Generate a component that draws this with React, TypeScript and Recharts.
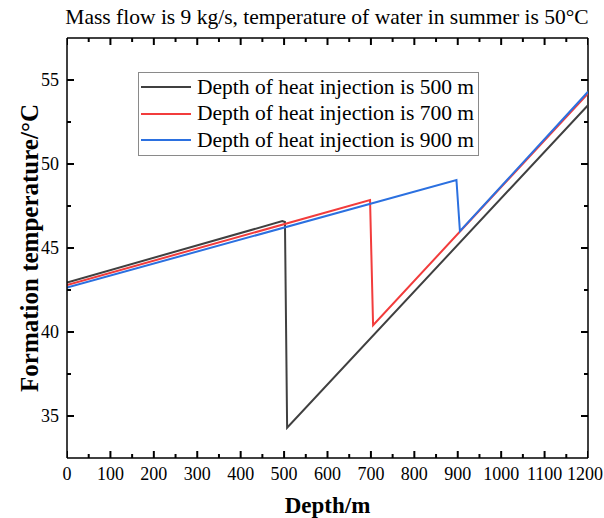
import React from 'react';
import { ComposedChart, Line, Scatter, XAxis, YAxis, Legend, ReferenceLine } from 'recharts';

// depth (m) and formation temperature (°C)
const depth500 = [0, 496, 502, 507, 1200];
const temp500 = [42.95, 46.6, 46.55, 34.3, 53.5];

const depth700 = [0, 698, 705, 1200];
const temp700 = [42.8, 47.85, 40.4, 54.2];

const depth900 = [0, 897, 905, 1200];
const temp900 = [42.65, 49.05, 46.0, 54.3];

const xMajor = [0, 100, 200, 300, 400, 500, 600, 700, 800, 900, 1000, 1100, 1200];
const xMinor = [50, 150, 250, 350, 450, 550, 650, 750, 850, 950, 1050, 1150];
const yMajor = [35, 40, 45, 50, 55];
const yMinor = [37.5, 42.5, 47.5, 52.5];

const X_DOMAIN: [number, number] = [0, 1200];
const Y_DOMAIN: [number, number] = [32.5, 57.5];

const toPoints = (xs: number[], ys: number[]) => xs.map((d, i) => ({ depth: d, temp: ys[i] }));

const series = [
  { name: 'Depth of heat injection is 500 m', color: '#404040', data: toPoints(depth500, temp500) },
  { name: 'Depth of heat injection is 700 m', color: '#f23c3c', data: toPoints(depth700, temp700) },
  { name: 'Depth of heat injection is 900 m', color: '#2b70e0', data: toPoints(depth900, temp900) },
];

// inward tick marks on all four sides of the frame
const xMarks = (temp: number) => [
  ...xMajor.map((v) => ({ depth: v, temp, major: true })),
  ...xMinor.map((v) => ({ depth: v, temp, major: false })),
];
const yMarks = (depth: number) => [
  ...yMajor.map((v) => ({ depth, temp: v, major: true })),
  ...yMinor.map((v) => ({ depth, temp: v, major: false })),
];

const FONT = '"Liberation Serif", "Times New Roman", serif';
const MAJOR = 7;
const MINOR = 4;
const frame = { stroke: '#000', strokeWidth: 1.5 };

const tickMark = (dx: number, dy: number) => (props: any) => {
  const { cx, cy } = props;
  const major = props.payload && props.payload.major !== undefined ? props.payload.major : props.major;
  const len = major ? MAJOR : MINOR;
  return <line x1={cx} y1={cy} x2={cx + dx * len} y2={cy + dy * len} stroke="#000" strokeWidth={2} />;
};

const bottomLabel = (props: any) => {
  const x = Number(props.x);
  const y = Number(props.y);
  const v = props.payload.value;
  const last = v === 1200;
  return (
    <text key={`bl-${v}`} x={last ? x + 15 : x} y={y + 22} textAnchor={last ? 'end' : 'middle'} fontFamily={FONT} fontSize={18} fill="#000">
      {v}
    </text>
  );
};

function LegendBox() {
  return (
    <div style={{ border: '1px solid #8a8a8a', background: '#fff', padding: '1px 0', fontFamily: FONT, fontSize: 21.5 }}>
      {series.map((s) => (
        <div key={s.name} style={{ display: 'flex', alignItems: 'center', height: 26.5, whiteSpace: 'nowrap' }}>
          <span style={{ display: 'inline-block', width: 50, height: 2, background: s.color, marginLeft: 2, marginRight: 6 }} />
          <span style={{ color: '#000' }}>{s.name}</span>
        </div>
      ))}
    </div>
  );
}

export default function App() {
  return (
    <div style={{ position: 'absolute', left: 0, top: 0, width: 604, height: 518, background: '#fff' }}>
      <div style={{ position: 'absolute', left: 50, top: 4, width: 554, textAlign: 'center', fontFamily: FONT, fontSize: 21.5, lineHeight: '26px', color: '#000', whiteSpace: 'nowrap' }}>
        Mass flow is 9 kg/s, temperature of water in summer is 50°C
      </div>
      <ComposedChart width={604} height={518} margin={{ top: 38, right: 16, bottom: 0, left: 0 }}>
        <XAxis
          xAxisId="b"
          dataKey="depth"
          type="number"
          domain={X_DOMAIN}
          ticks={xMajor}
          interval={0}
          height={60}
          tickSize={0}
          tickMargin={0}
          tickLine={false}
          tick={bottomLabel}
          axisLine={frame}
          allowDataOverflow
          label={{ value: 'Depth/m', position: 'insideBottom', offset: 5, style: { fontFamily: FONT, fontSize: 23, fontWeight: 'bold', fill: '#000' } }}
        />
        <YAxis
          yAxisId="l"
          dataKey="temp"
          type="number"
          domain={Y_DOMAIN}
          ticks={yMajor}
          interval={0}
          width={67}
          tickSize={0}
          tickMargin={8}
          tickLine={false}
          tick={{ fontFamily: FONT, fontSize: 18, fill: '#000' }}
          axisLine={frame}
          allowDataOverflow
          label={{ value: 'Formation temperature/°C', angle: -90, position: 'insideLeft', offset: 29, style: { textAnchor: 'middle', fontFamily: FONT, fontSize: 25, fontWeight: 'bold', fill: '#000' } }}
        />

        <Legend
          layout="horizontal"
          verticalAlign="middle"
          align="center"
          content={<LegendBox />}
          wrapperStyle={{ left: 138, top: 72, width: 341, height: 'auto' }}
        />

        {/* top and right sides of the frame */}
        <ReferenceLine xAxisId="b" yAxisId="l" y={Y_DOMAIN[1]} stroke="#000" strokeWidth={1.5} ifOverflow="visible" />
        <ReferenceLine xAxisId="b" yAxisId="l" x={X_DOMAIN[1]} stroke="#000" strokeWidth={1.5} ifOverflow="visible" />

        <Scatter xAxisId="b" yAxisId="l" data={xMarks(Y_DOMAIN[0])} shape={tickMark(0, -1)} legendType="none" isAnimationActive={false} />
        <Scatter xAxisId="b" yAxisId="l" data={xMarks(Y_DOMAIN[1])} shape={tickMark(0, 1)} legendType="none" isAnimationActive={false} />
        <Scatter xAxisId="b" yAxisId="l" data={yMarks(X_DOMAIN[0])} shape={tickMark(1, 0)} legendType="none" isAnimationActive={false} />
        <Scatter xAxisId="b" yAxisId="l" data={yMarks(X_DOMAIN[1])} shape={tickMark(-1, 0)} legendType="none" isAnimationActive={false} />

        {series.map((s) => (
          <Line
            key={s.name}
            xAxisId="b"
            yAxisId="l"
            data={s.data}
            dataKey="temp"
            name={s.name}
            type="linear"
            stroke={s.color}
            strokeWidth={2}
            dot={false}
            isAnimationActive={false}
          />
        ))}
      </ComposedChart>
    </div>
  );
}
